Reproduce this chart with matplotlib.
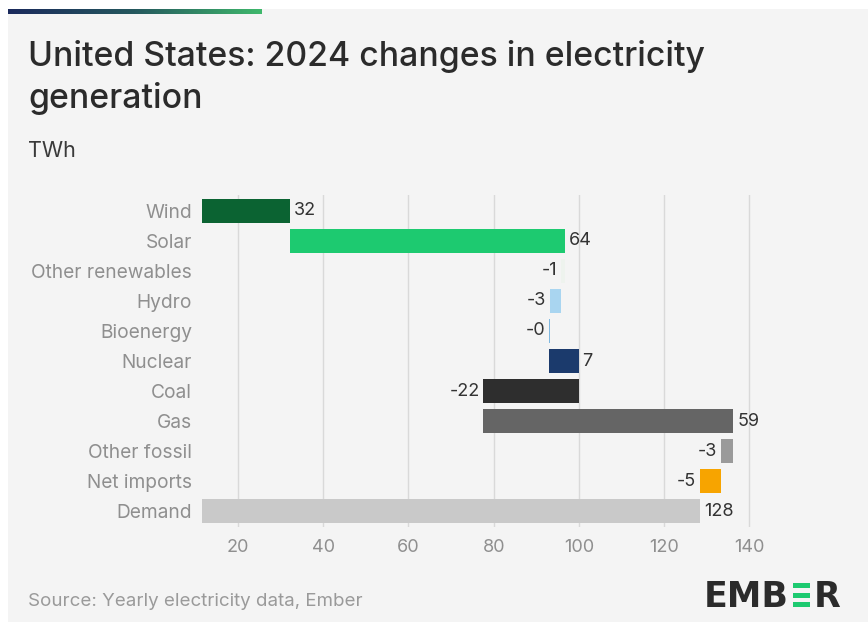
import matplotlib

matplotlib.use("Agg")
import matplotlib.pyplot as plt
import numpy as np
from matplotlib.patches import Rectangle

# ------------------------------------------------------------------ #
# Data (TWh change, 2024 vs 2023)
# ------------------------------------------------------------------ #
categories = [
    "Wind", "Solar", "Other renewables", "Hydro", "Bioenergy", "Nuclear",
    "Coal", "Gas", "Other fossil", "Net imports", "Demand",
]
changes = [32.3, 64.4, -0.8, -2.7, -0.2, 6.9, -22.3, 58.6, -2.8, -5.0]
demand = 128.4
value_labels = ["32", "64", "-1", "-3", "-0", "7", "-22", "59", "-3", "-5", "128"]
bar_colors = [
    "#0b6332", "#1dca70", "#eef3ee", "#a9d5f0", "#7fb8e0", "#1b3a6c",
    "#2e2e2e", "#656565", "#9a9a9a", "#f7a400", "#c9c9c9",
]
xticks = [20, 40, 60, 80, 100, 120, 140]

BG = "#f4f4f4"
W, H = 868, 622


def fx(px):
    return px / W


def fy(px):
    return 1 - px / H


fig = plt.figure(figsize=(W / 100, H / 100), dpi=100)
fig.patch.set_facecolor("white")
fig.patches.append(Rectangle((fx(8), 0), 1 - fx(8), fy(9), transform=fig.transFigure,
                             facecolor=BG, edgecolor="none", zorder=-10))

# gradient strip at top
grad_ax = fig.add_axes([fx(8), fy(14), fx(262) - fx(8), fy(9) - fy(14)], zorder=2)
grad = np.linspace(0, 1, 256).reshape(1, -1)
cmap = matplotlib.colors.LinearSegmentedColormap.from_list(
    "ember", ["#1b2a5c", "#25585e", "#3fb86c"])
grad_ax.imshow(grad, aspect="auto", cmap=cmap)
grad_ax.axis("off")

# ------------------------------------------------------------------ #
# Waterfall
# ------------------------------------------------------------------ #
ax = fig.add_axes([fx(201.7), fy(527), fx(758) - fx(201.7), (527 - 195) / H], zorder=1)
ax.set_facecolor(BG)

starts = []
ends = []
level = 0.0
for c in changes:
    starts.append(level)
    level += c
    ends.append(level)
starts.append(0.0)
ends.append(demand)

y = np.arange(len(categories))
lefts = [min(s, e) for s, e in zip(starts, ends)]
widths = [abs(e - s) for s, e in zip(starts, ends)]
ax.barh(y, widths, left=lefts, height=0.8, color=bar_colors, zorder=3)

for i, (s, e, lab) in enumerate(zip(starts, ends, value_labels)):
    if e >= s:
        ax.text(max(s, e) + 0.9, i, lab, ha="left", va="center",
                fontsize=13, color="#333333", family="Inter", zorder=4)
    else:
        ax.text(min(s, e) - 0.9, i, lab, ha="right", va="center",
                fontsize=13, color="#333333", family="Inter", zorder=4)

ax.set_xlim(11.5, 142)
ax.set_ylim(len(categories) - 0.467, -0.533)
ax.set_xticks(xticks)
ax.set_xticklabels([str(t) for t in xticks], family="Inter", fontsize=13, color="#8f8f8f")
ax.set_yticks(y)
ax.set_yticklabels(categories, family="Inter", fontsize=13.8, color="#8f8f8f")
ax.tick_params(axis="both", length=0)
ax.tick_params(axis="y", pad=7)
ax.tick_params(axis="x", pad=9)
ax.grid(axis="x", color="#d9d9d9", linewidth=1, zorder=0)
for sp in ax.spines.values():
    sp.set_visible(False)

# ------------------------------------------------------------------ #
# Titles, source, logo
# ------------------------------------------------------------------ #
fig.text(fx(28), fy(66), "United States: 2024 changes in electricity", family="Inter",
         fontsize=24.3, color="#2b2b2b", fontweight="medium", va="baseline")
fig.text(fx(28), fy(108), "generation", family="Inter",
         fontsize=24.3, color="#2b2b2b", fontweight="medium", va="baseline")
fig.text(fx(28), fy(157), "TWh", family="Inter", fontsize=15.5, color="#3a3a3a",
         va="baseline")
fig.text(fx(28), fy(606), "Source: Yearly electricity data, Ember", family="Inter",
         fontsize=13.5, color="#9a9a9a", va="baseline")

# EMBER logo: dark letters with the second E drawn as three green bars
renderer = fig.canvas.get_renderer()
emb = fig.text(fx(704), fy(607), "EMB", family="DejaVu Sans", fontweight="bold",
               fontsize=25, color="#2b2b2b", va="baseline")
emb_right = emb.get_window_extent(renderer).x1
bar_h = 5.0
for k in range(3):
    top = 583 + k * 9.5
    fig.patches.append(Rectangle((fx(emb_right + 4), fy(top + bar_h)), fx(17), bar_h / H,
                                 transform=fig.transFigure, facecolor="#1dca70",
                                 edgecolor="none", zorder=3))
fig.text(fx(emb_right + 25), fy(607), "R", family="DejaVu Sans", fontweight="bold",
         fontsize=25, color="#2b2b2b", va="baseline")

fig.savefig("out.png", dpi=100, facecolor=fig.get_facecolor())
